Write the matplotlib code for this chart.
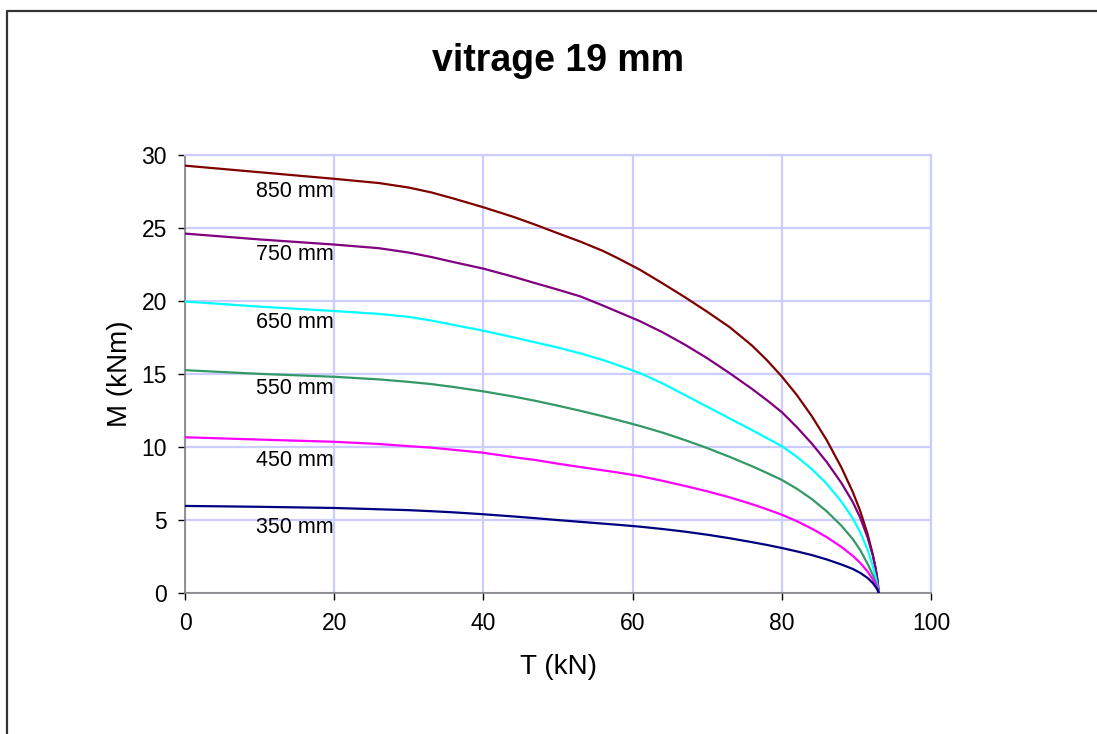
import matplotlib
matplotlib.use("Agg")
import matplotlib.pyplot as plt
from matplotlib.lines import Line2D

plt.rcParams["font.family"] = ["Liberation Sans", "DejaVu Sans"]

# effort tranchant T (kN) aux points relevés
effort_t = [0, 10, 20, 26, 30, 33, 36, 40, 44, 47, 50, 53, 56, 58, 61, 64, 67, 70, 73,
            76, 78, 80, 82, 84, 86, 88, 89.5, 90.5, 91.5, 92.2, 92.6, 92.85, 93]

# moment M (kNm) pour chaque longueur
moment_850 = [29.25, 28.8, 28.35, 28.06, 27.75, 27.42, 27.0, 26.4, 25.75, 25.2, 24.62,
              24.05, 23.42, 22.92, 22.12, 21.2, 20.25, 19.25, 18.2, 16.94, 15.94, 14.82,
              13.56, 12.12, 10.48, 8.58, 6.93, 5.63, 4.03, 2.63, 1.59, 0.74, 0]
moment_750 = [24.6, 24.2, 23.85, 23.6, 23.3, 23.0, 22.65, 22.2, 21.65, 21.2, 20.76,
              20.3, 19.68, 19.25, 18.6, 17.85, 17.0, 16.07, 15.05, 13.97, 13.2, 12.38,
              11.36, 10.24, 8.98, 7.52, 6.24, 5.17, 3.8, 2.57, 1.65, 0.83, 0]
moment_650 = [19.95, 19.6, 19.3, 19.1, 18.9, 18.65, 18.35, 17.95, 17.5, 17.15, 16.8,
              16.4, 15.95, 15.6, 15.05, 14.35, 13.55, 12.75, 11.95, 11.15, 10.6, 10.05,
              9.33, 8.49, 7.49, 6.25, 5.12, 4.17, 2.97, 1.85, 1.05, 0.45, 0]
moment_550 = [15.25, 15.0, 14.8, 14.62, 14.45, 14.3, 14.1, 13.8, 13.45, 13.15, 12.82,
              12.47, 12.1, 11.84, 11.43, 10.98, 10.47, 9.92, 9.32, 8.68, 8.22, 7.74,
              7.14, 6.44, 5.6, 4.6, 3.7, 2.95, 2.0, 1.23, 0.71, 0.31, 0]
moment_450 = [10.66, 10.5, 10.35, 10.2, 10.05, 9.95, 9.8, 9.6, 9.3, 9.1, 8.85,
              8.62, 8.4, 8.25, 8.0, 7.68, 7.33, 6.96, 6.55, 6.08, 5.73, 5.36,
              4.92, 4.41, 3.83, 3.15, 2.55, 2.07, 1.47, 0.93, 0.55, 0.27, 0]
moment_350 = [5.96, 5.9, 5.82, 5.73, 5.67, 5.6, 5.52, 5.39, 5.24, 5.12, 4.99,
              4.87, 4.75, 4.67, 4.54, 4.38, 4.2, 3.99, 3.75, 3.48, 3.29, 3.08,
              2.85, 2.6, 2.3, 1.95, 1.65, 1.38, 1.03, 0.68, 0.4, 0.19, 0]

etiquettes = ["850 mm", "750 mm", "650 mm", "550 mm", "450 mm", "350 mm"]
moments = [moment_850, moment_750, moment_650, moment_550, moment_450, moment_350]
couleurs = ["#800000", "#800080", "#00ffff", "#339966", "#ff00ff", "#000080"]
# emplacement des étiquettes sous chaque courbe
pos_etiquettes = [27.5, 23.15, 18.5, 14.0, 9.1, 4.5]

fig = plt.figure(figsize=(10.97, 7.34), dpi=100)
ax = fig.add_axes([185 / 1097, 1 - 593 / 734, (931 - 185) / 1097, (593 - 154.7) / 734])

for m, c in zip(moments, couleurs):
    ax.plot(effort_t, m, color=c, lw=1.6, zorder=3, solid_joinstyle="round")

for txt, y in zip(etiquettes, pos_etiquettes):
    ax.text(14.7, y, txt, ha="center", va="center", fontsize=15.5, zorder=4)

ax.set_xlim(0, 100)
ax.set_ylim(0, 30)
ax.set_xticks(range(0, 101, 20))
ax.set_yticks(range(0, 31, 5))
ax.grid(True, color="#ccccff", lw=1.6, zorder=0)
ax.set_axisbelow(True)

for s in ["top", "right"]:
    ax.spines[s].set_color("#ccccff")
    ax.spines[s].set_linewidth(1.6)
for s in ["left", "bottom"]:
    ax.spines[s].set_color("#808080")
    ax.spines[s].set_linewidth(1.2)

ax.tick_params(axis="both", direction="out", length=5, width=1.0, color="#000000",
               labelsize=16.5)
ax.tick_params(axis="x", pad=9)
ax.tick_params(axis="y", pad=8)

ax.set_xlabel("T (kN)", fontsize=20, labelpad=13)
ax.set_ylabel("M (kNm)", fontsize=20, labelpad=6)

fig.text(558 / 1097, 1 - 61 / 734, "vitrage 19 mm", ha="center", va="center",
         fontsize=27, fontweight="bold")

# cadre du graphique
fig.add_artist(Line2D([7 / 1097, 7 / 1097, 1.0], [0.0, 1 - 11 / 734, 1 - 11 / 734],
                      color="#333333", lw=1.6, transform=fig.transFigure))

fig.savefig("out.png", dpi=100)
